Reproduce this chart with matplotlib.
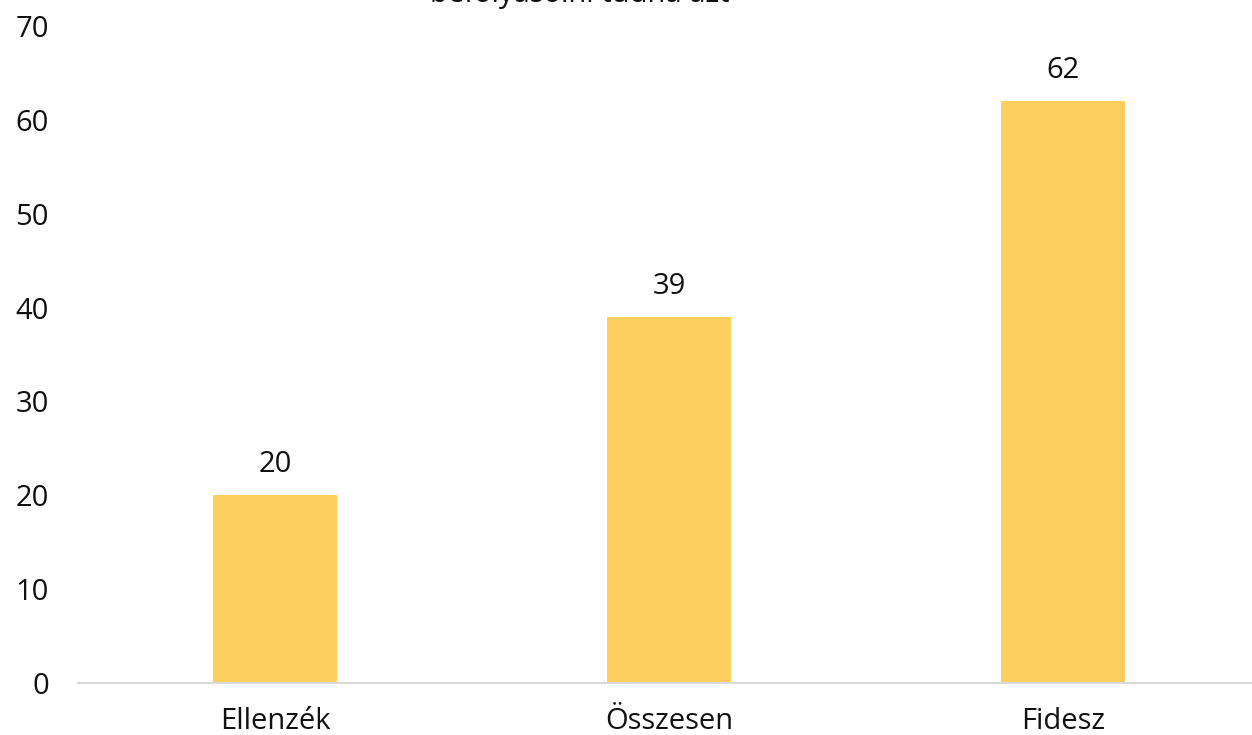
import matplotlib.pyplot as plt

plt.rcParams['font.family'] = ['Open Sans', 'DejaVu Sans']

categories = ["Ellenzék", "Összesen", "Fidesz"]
values = [20, 39, 62]
yticks = [0, 10, 20, 30, 40, 50, 60, 70]
title = "befolyásolni tudná azt"

fig = plt.figure(figsize=(12.52, 7.35), dpi=100)
ax = fig.add_axes([78 / 1252, (735 - 683) / 735, (1252 - 78) / 1252, (683 - 26) / 735])

x = range(len(categories))
bars = ax.bar(x, values, width=0.315, color="#FDCF5F", zorder=2)
for b, v in zip(bars, values):
    ax.text(b.get_x() + b.get_width() / 2, v + 1.7, str(v), ha="center", va="bottom",
            fontsize=21, color="#111111")

ax.set_xlim(-0.5, 2.48)
ax.set_ylim(0, 70)
ax.set_yticks(yticks)
ax.set_xticks(list(x))
ax.set_xticklabels(categories)
ax.tick_params(axis="both", length=0, labelsize=21, colors="#111111")
ax.tick_params(axis="y", pad=21)
ax.tick_params(axis="x", pad=17)
for s in ["top", "right", "left"]:
    ax.spines[s].set_visible(False)
ax.spines["bottom"].set_color("#d9d9d9")
ax.spines["bottom"].set_linewidth(1.5)

fig.text(580 / 1252, 1 - 2 / 735, title, ha="center", va="baseline", fontsize=21, color="#111111")

fig.savefig("out.png", dpi=100)
